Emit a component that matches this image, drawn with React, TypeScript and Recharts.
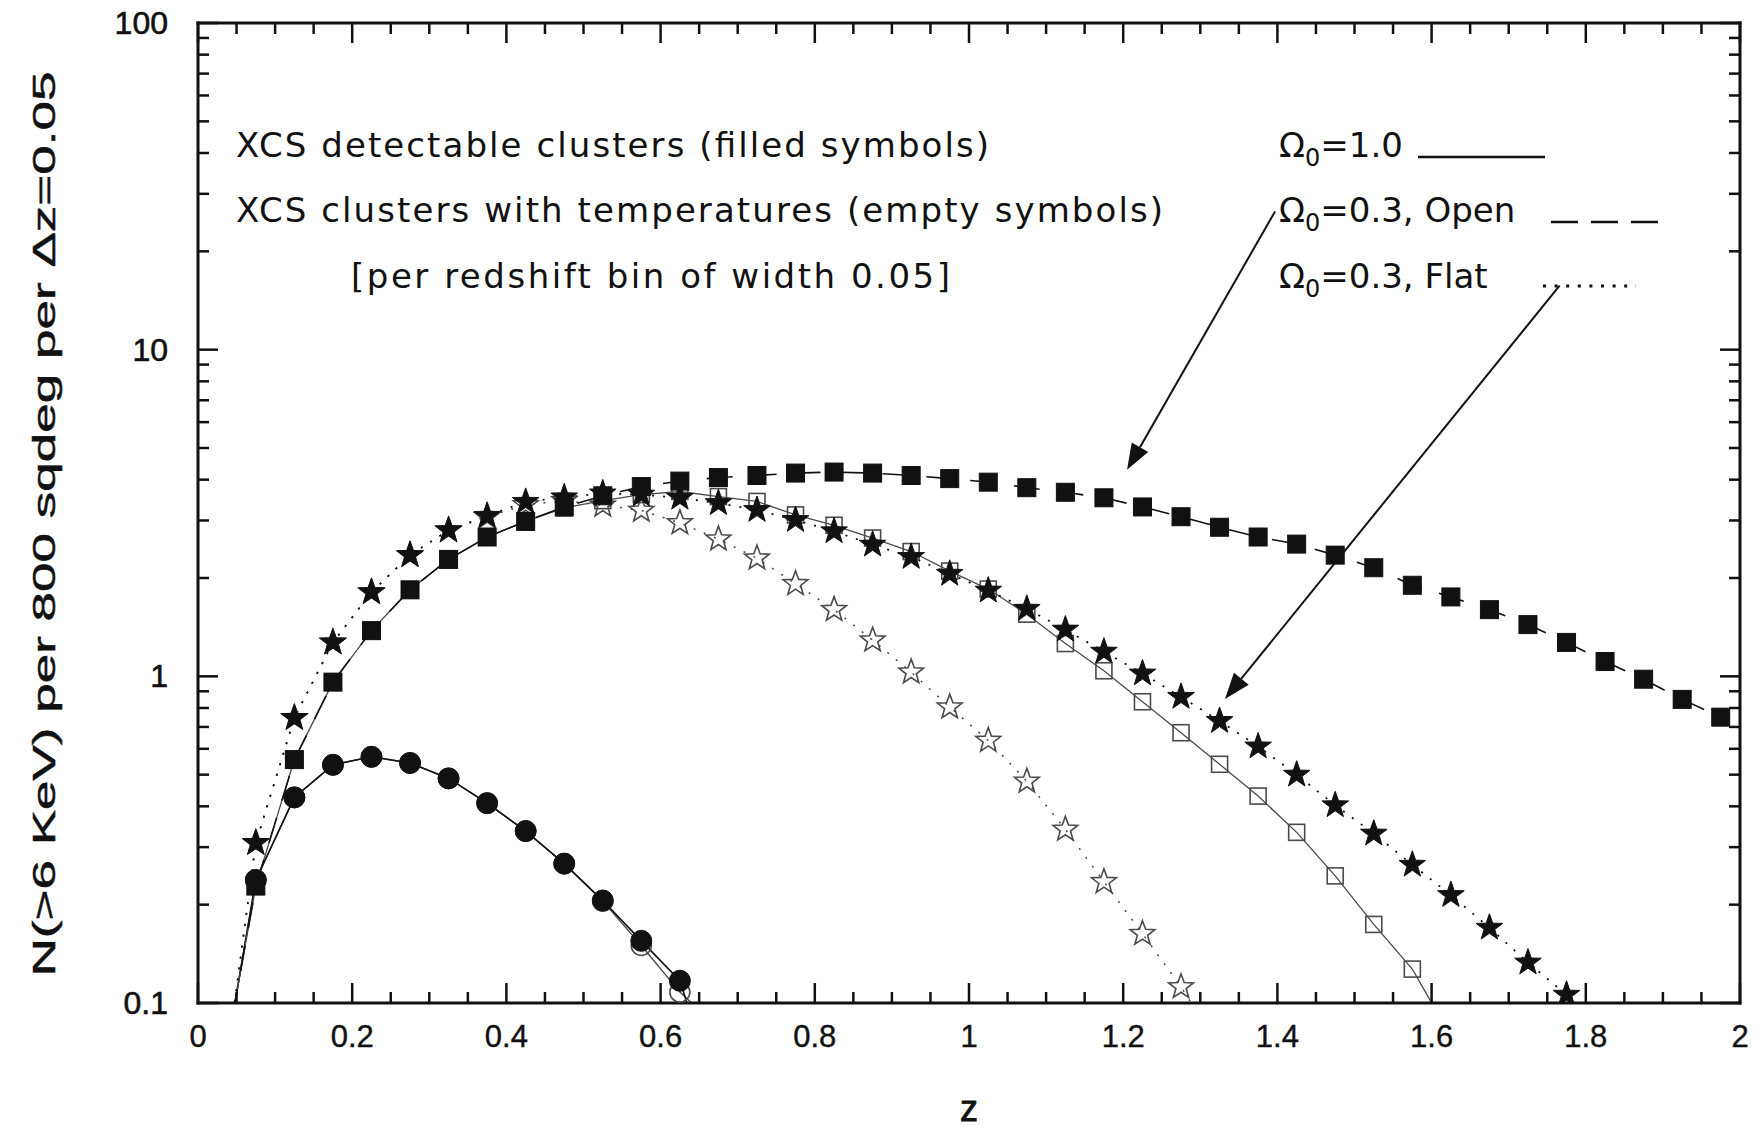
import React from 'react';
import { LineChart, Line, XAxis, YAxis, ReferenceLine } from 'recharts';

// redshift bin centres (bin width 0.05)
const zBins = [
  0.025, 0.075, 0.125, 0.175, 0.225, 0.275, 0.325, 0.375, 0.425, 0.475,
  0.525, 0.575, 0.625, 0.675, 0.725, 0.775, 0.825, 0.875, 0.925, 0.975,
  1.025, 1.075, 1.125, 1.175, 1.225, 1.275, 1.325, 1.375, 1.425, 1.475,
  1.525, 1.575, 1.625, 1.675, 1.725, 1.775, 1.825, 1.875, 1.925, 1.975,
];

// Omega0 = 1.0 : detectable (filled circles) / with temperatures (empty circles)
const omega1Detect = [0.048, 0.238, 0.426, 0.536, 0.567, 0.543, 0.487, 0.409, 0.336, 0.267, 0.206, 0.155, 0.117, 0.05];
const omega1Temp = [0.048, 0.238, 0.426, 0.536, 0.567, 0.543, 0.487, 0.409, 0.336, 0.267, 0.205, 0.15, 0.108, 0.084];

// Omega0 = 0.3 open : filled squares / empty squares
const openDetect = [
  0.05, 0.228, 0.556, 0.96, 1.38, 1.84, 2.28, 2.67, 2.98, 3.3,
  3.57, 3.81, 3.96, 4.06, 4.12, 4.19, 4.22, 4.19, 4.12, 4.03,
  3.93, 3.78, 3.66, 3.52, 3.3, 3.08, 2.86, 2.67, 2.54, 2.35,
  2.15, 1.9, 1.75, 1.6, 1.44, 1.27, 1.11, 0.98, 0.85, 0.75,
];
const openTemp = [
  0.05, 0.228, 0.556, 0.96, 1.38, 1.84, 2.28, 2.67, 2.98, 3.28,
  3.45, 3.6, 3.68, 3.55, 3.43, 3.12, 2.9, 2.65, 2.41, 2.1,
  1.85, 1.55, 1.26, 1.04, 0.836, 0.672, 0.538, 0.43, 0.333, 0.245,
  0.174, 0.127, 0.079,
];

// Omega0 = 0.3 flat : filled stars / empty stars
const flatDetect = [
  0.04, 0.309, 0.746, 1.27, 1.81, 2.35, 2.8, 3.1, 3.42, 3.53,
  3.63, 3.6, 3.52, 3.39, 3.23, 3.01, 2.78, 2.53, 2.32, 2.06,
  1.83, 1.61, 1.39, 1.19, 1.02, 0.865, 0.73, 0.61, 0.5, 0.403,
  0.33, 0.265, 0.214, 0.17, 0.133, 0.106, 0.077,
];
const flatTemp = [
  0.04, 0.309, 0.746, 1.27, 1.81, 2.35, 2.8, 3.08, 3.35, 3.45,
  3.34, 3.22, 2.95, 2.63, 2.3, 1.92, 1.6, 1.29, 1.03, 0.805,
  0.636, 0.477, 0.34, 0.235, 0.163, 0.112, 0.073,
];

const xMajorTicks = [0, 0.2, 0.4, 0.6, 0.8, 1, 1.2, 1.4, 1.6, 1.8, 2];
const xTickLabels = ['0', '0.2', '0.4', '0.6', '0.8', '1', '1.2', '1.4', '1.6', '1.8', '2'];
const yMajorTicks = [0.1, 1, 10, 100];
const yTickLabels = ['0.1', '1', '10', '100'];

// arrows from the legend entries down to their curves, in (z, N) units
const openArrow = [{ x: 1.397, y: 26.5 }, { x: 1.205, y: 4.29 }];
const flatArrow = [{ x: 1.766, y: 15.7 }, { x: 1.332, y: 0.853 }];

const xMinorTicks = Array.from({ length: 41 }, (_, i) => Math.round(i * 5) / 100);
const yMinorTicks = [0.1, 1, 10].flatMap((d) => [1, 2, 3, 4, 5, 6, 7, 8, 9].map((m) => +(m * d).toPrecision(3))).concat([100]);

const rows = zBins.map((z, i) => ({
  z,
  omega1Detect: omega1Detect[i] ?? null,
  omega1Temp: omega1Temp[i] ?? null,
  openDetect: openDetect[i] ?? null,
  openTemp: openTemp[i] ?? null,
  flatDetect: flatDetect[i] ?? null,
  flatTemp: flatTemp[i] ?? null,
}));

const CHART_W = 1762;
const CHART_H = 1133;
const MARGIN = { top: 22, right: 21, bottom: 0, left: 0 };

const INK = '#111';
const GREY = '#4a4a4a';
const TICK_FONT = '"Liberation Sans", Arial, sans-serif';
const NOTE_FONT = '"DejaVu Sans", sans-serif';
const MAJOR_LEN = 20;
const MINOR_LEN = 11;

const near = (list: number[], v: number) => list.findIndex((t) => Math.abs(t - v) < 1e-6);

function BottomTick(props: any) {
  const { x, y, payload } = props;
  const idx = near(xMajorTicks, payload.value);
  const len = idx >= 0 ? MAJOR_LEN : MINOR_LEN;
  return (
    <g>
      <line x1={x} y1={y} x2={x} y2={y - len} stroke={INK} strokeWidth={2.5} />
      {idx >= 0 && (
        <text x={x} y={y + 44} textAnchor="middle" fontFamily={TICK_FONT} fontSize={31} fill={INK} stroke={INK} strokeWidth={0.4}>
          {xTickLabels[idx]}
        </text>
      )}
    </g>
  );
}

function TopTick(props: any) {
  const { x, y, payload } = props;
  const len = near(xMajorTicks, payload.value) >= 0 ? MAJOR_LEN : MINOR_LEN;
  return <line x1={x} y1={y} x2={x} y2={y + len} stroke={INK} strokeWidth={2.5} />;
}

function LeftTick(props: any) {
  const { x, y, payload } = props;
  const idx = near(yMajorTicks, payload.value);
  const len = idx >= 0 ? MAJOR_LEN : MINOR_LEN;
  return (
    <g>
      <line x1={x} y1={y} x2={x + len} y2={y} stroke={INK} strokeWidth={2.5} />
      {idx >= 0 && (
        <text x={x - 30} y={y + 11} textAnchor="end" fontFamily={TICK_FONT} fontSize={32} fill={INK} stroke={INK} strokeWidth={0.6}>
          {yTickLabels[idx]}
        </text>
      )}
    </g>
  );
}

function RightTick(props: any) {
  const { x, y, payload } = props;
  const len = near(yMajorTicks, payload.value) >= 0 ? MAJOR_LEN : MINOR_LEN;
  return <line x1={x} y1={y} x2={x - len} y2={y} stroke={INK} strokeWidth={2.5} />;
}

function starPoints(cx: number, cy: number, R: number, r: number) {
  const pts: string[] = [];
  for (let k = 0; k < 10; k++) {
    const rad = k % 2 === 0 ? R : r;
    const a = -Math.PI / 2 + (k * Math.PI) / 5;
    pts.push(`${(cx + rad * Math.cos(a)).toFixed(2)},${(cy + rad * Math.sin(a)).toFixed(2)}`);
  }
  return pts.join(' ');
}

type Kind = 'square' | 'circle' | 'star';

function makeDot(kind: Kind, filled: boolean) {
  return (props: any) => {
    const { cx, cy, index } = props;
    const k = `${kind}-${filled ? 'f' : 'o'}-${index}`;
    if (typeof cx !== 'number' || typeof cy !== 'number' || !isFinite(cy)) return <g key={k} />;
    const fill = filled ? INK : 'none';
    const stroke = filled ? INK : GREY;
    const sw = filled ? 1 : 1.6;
    if (kind === 'square') {
      const h = filled ? 9 : 8;
      return <rect key={k} x={cx - h} y={cy - h} width={2 * h} height={2 * h} fill={fill} stroke={stroke} strokeWidth={sw} />;
    }
    if (kind === 'circle') {
      return <circle key={k} cx={cx} cy={cy} r={filled ? 10.5 : 10} fill={fill} stroke={stroke} strokeWidth={sw} />;
    }
    return <polygon key={k} points={starPoints(cx, cy, filled ? 14 : 13, filled ? 5.6 : 5.4)} fill={fill} stroke={stroke} strokeWidth={sw} strokeLinejoin="miter" />;
  };
}

function ArrowShape(props: any) {
  const { x1, y1, x2, y2 } = props;
  const a = Math.atan2(y2 - y1, x2 - x1);
  const L = 26;
  const Wd = 9.5;
  const bx = x2 - L * Math.cos(a);
  const by = y2 - L * Math.sin(a);
  const p1 = `${bx - Wd * Math.sin(a)},${by + Wd * Math.cos(a)}`;
  const p2 = `${bx + Wd * Math.sin(a)},${by - Wd * Math.cos(a)}`;
  return (
    <g>
      <line x1={x1} y1={y1} x2={bx} y2={by} stroke={INK} strokeWidth={2} />
      <polygon points={`${x2},${y2} ${p1} ${p2}`} fill={INK} />
    </g>
  );
}

const axisLine = { stroke: INK, strokeWidth: 3, strokeLinecap: 'square' as const };

export default function App() {
  return (
    <div style={{ position: 'absolute', left: 0, top: 0, width: CHART_W, height: CHART_H, background: '#fff' }}>
      <LineChart width={CHART_W} height={CHART_H} data={rows} margin={MARGIN}>
        <XAxis
          dataKey="z" type="number" domain={[0, 2]} allowDataOverflow ticks={xMinorTicks} interval={0}
          height={130} tickSize={0} tickMargin={0} tickLine={false} axisLine={axisLine} tick={BottomTick}
        />
        {/* mirrored frame axes: 1px thick so they still get drawn */}
        <XAxis
          xAxisId="top" orientation="top" dataKey="z" type="number" domain={[0, 2]} allowDataOverflow ticks={xMinorTicks}
          interval={0} height={1} tickSize={0} tickMargin={0} tickLine={false} axisLine={axisLine} tick={TopTick}
        />
        <YAxis
          type="number" scale="log" domain={[0.1, 100]} allowDataOverflow ticks={yMinorTicks} interval={0}
          width={198} tickSize={0} tickMargin={0} tickLine={false} axisLine={axisLine} tick={LeftTick}
        />
        <YAxis
          yAxisId="right" orientation="right" type="number" scale="log" domain={[0.1, 100]} allowDataOverflow
          ticks={yMinorTicks} interval={0} width={1} tickSize={0} tickMargin={0} tickLine={false} axisLine={axisLine} tick={RightTick}
        />

        <Line dataKey="omega1Temp" stroke={GREY} strokeWidth={1.4} dot={makeDot('circle', false)} activeDot={false} isAnimationActive={false} />
        <Line dataKey="omega1Detect" stroke={INK} strokeWidth={1.6} dot={makeDot('circle', true)} activeDot={false} isAnimationActive={false} />
        <Line dataKey="flatTemp" stroke={GREY} strokeWidth={1.5} strokeDasharray="2 9" dot={makeDot('star', false)} activeDot={false} isAnimationActive={false} />
        <Line dataKey="openTemp" stroke={GREY} strokeWidth={1.3} dot={makeDot('square', false)} activeDot={false} isAnimationActive={false} />
        <Line dataKey="openDetect" stroke={INK} strokeWidth={1.6} strokeDasharray="26 18" dot={makeDot('square', true)} activeDot={false} isAnimationActive={false} />
        <Line dataKey="flatDetect" stroke={INK} strokeWidth={1.8} strokeDasharray="2 9" dot={makeDot('star', true)} activeDot={false} isAnimationActive={false} />

        <ReferenceLine segment={openArrow} ifOverflow="visible" shape={ArrowShape} />
        <ReferenceLine segment={flatArrow} ifOverflow="visible" shape={ArrowShape} />

        <g fontFamily={NOTE_FONT} fontSize={34} fill={INK}>
          <text x={236} y={157} textLength={753} lengthAdjust="spacing">XCS detectable clusters (filled symbols)</text>
          <text x={236} y={222} textLength={927} lengthAdjust="spacing">XCS clusters with temperatures (empty symbols)</text>
          <text x={351} y={288} textLength={599} lengthAdjust="spacing">[per redshift bin of width 0.05]</text>

          <text x={1279} y={157}>
            Ω<tspan fontSize={24} dy={9}>0</tspan><tspan dy={-9}>=1.0</tspan>
          </text>
          <text x={1279} y={222}>
            Ω<tspan fontSize={24} dy={9}>0</tspan><tspan dy={-9}>=0.3, Open</tspan>
          </text>
          <text x={1279} y={288}>
            Ω<tspan fontSize={24} dy={9}>0</tspan><tspan dy={-9}>=0.3, Flat</tspan>
          </text>
        </g>
        <line x1={1418} y1={157} x2={1545} y2={157} stroke={INK} strokeWidth={2.5} />
        <line x1={1551} y1={222} x2={1658} y2={222} stroke={INK} strokeWidth={2.5} strokeDasharray="27 13" />
        <line x1={1543} y1={286} x2={1636} y2={286} stroke={INK} strokeWidth={3} strokeDasharray="3 8.6" />

        <text
          x={44} y={524} transform="rotate(-90 44 524)" textAnchor="middle" dominantBaseline="central"
          fontFamily={TICK_FONT} fontSize={31} fill={INK} stroke={INK} strokeWidth={0.5}
          textLength={905} lengthAdjust="spacingAndGlyphs"
        >
          N(&gt;6 KeV) per 800 sqdeg per Δz=0.05
        </text>
        <text x={969} y={1121} textAnchor="middle" fontFamily={TICK_FONT} fontSize={36} fill={INK} stroke={INK} strokeWidth={0.8}>
          z
        </text>
      </LineChart>
    </div>
  );
}
